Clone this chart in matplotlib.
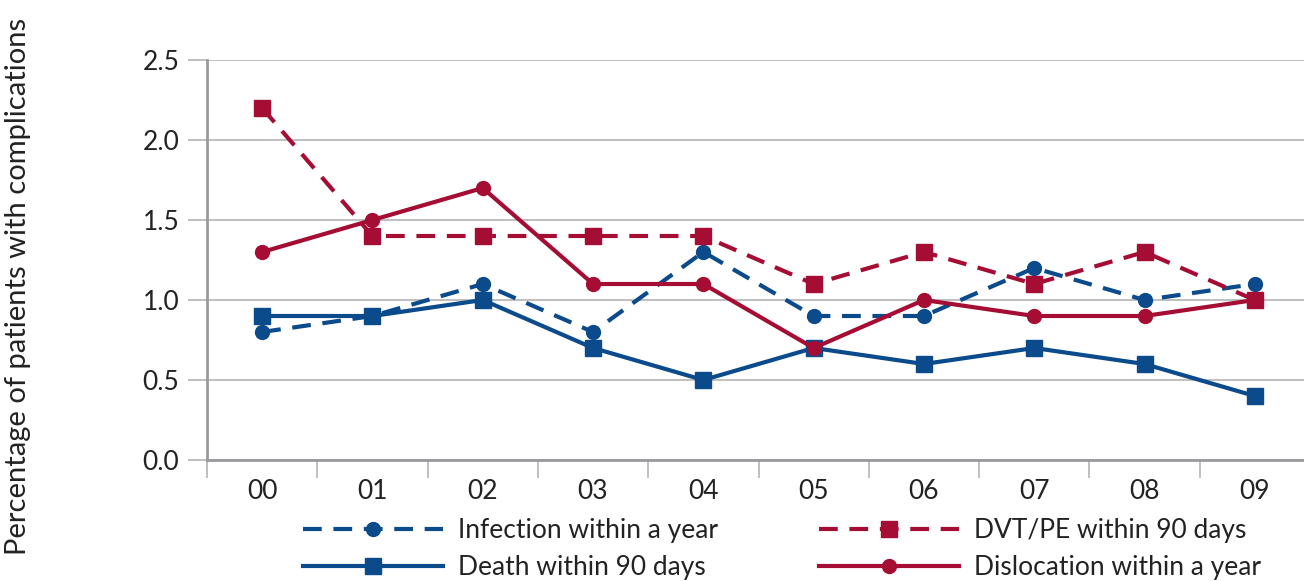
import numpy as np
import matplotlib.pyplot as plt
from matplotlib.lines import Line2D

years = ["00", "01", "02", "03", "04", "05", "06", "07", "08", "09"]
infection = [0.8, 0.9, 1.1, 0.8, 1.3, 0.9, 0.9, 1.2, 1.0, 1.1]
dvt_pe = [2.2, 1.4, 1.4, 1.4, 1.4, 1.1, 1.3, 1.1, 1.3, 1.0]
death = [0.9, 0.9, 1.0, 0.7, 0.5, 0.7, 0.6, 0.7, 0.6, 0.4]
dislocation = [1.3, 1.5, 1.7, 1.1, 1.1, 0.7, 1.0, 0.9, 0.9, 1.0]
yticks = [0.0, 0.5, 1.0, 1.5, 2.0, 2.5]

blue = "#0b4a8b"
red = "#a50d34"
grid_c = "#b4b4b8"
spine_c = "#9a9a9e"
dash = (0, (4.5, 2.8))

plt.rcParams['font.family'] = ['Lato', 'DejaVu Sans']

W, H = 1304, 581
fig = plt.figure(figsize=(W / 100, H / 100), dpi=100)
left, right, top, bottom = 207, 1304, 60, 460
ax = fig.add_axes([left / W, 1 - bottom / H, (right - left) / W, (bottom - top) / H])

x = np.arange(len(years))
lw = 3
ax.plot(x, infection, color=blue, lw=lw, ls=dash, marker="o", ms=10, zorder=3)
ax.plot(x, dvt_pe, color=red, lw=lw, ls=dash, marker="s", ms=11, zorder=3)
ax.plot(x, death, color=blue, lw=lw, marker="s", ms=11, zorder=3)
ax.plot(x, dislocation, color=red, lw=lw, marker="o", ms=10, zorder=3)

ax.set_ylim(0, 2.5)
ax.set_xlim(-0.5, 9.5 - 6 / 110.3)
ax.set_yticks(yticks)
ax.set_yticklabels(["%.1f" % v for v in yticks])
ax.yaxis.grid(True, color=grid_c, lw=1.2)
ax.set_axisbelow(True)

# x ticks at category boundaries, labels centred
ax.set_xticks(np.arange(-0.5, 9.5, 1.0))
ax.set_xticklabels([])
ax.set_xticks(x, minor=True)
ax.set_xticklabels(years, minor=True)
ax.tick_params(axis="x", which="major", length=13, width=1.2, color=grid_c)
ax.tick_params(axis="x", which="minor", length=0, pad=14, labelsize=19, labelcolor="#222222")
ax.tick_params(axis="y", length=14, width=1.2, color=grid_c, pad=6, labelsize=19, labelcolor="#222222")

for s in ["top", "right"]:
    ax.spines[s].set_visible(False)
ax.spines["left"].set_color(spine_c)
ax.spines["left"].set_linewidth(2)
ax.spines["bottom"].set_color(spine_c)
ax.spines["bottom"].set_linewidth(2)

ax.set_ylabel("Percentage of patients with complications", fontsize=21, color="#222222")
ax.yaxis.set_label_coords(-176 / (right - left), 0.435)

handles = [
    Line2D([], [], color=blue, lw=lw, ls=dash, marker="o", ms=10),
    Line2D([], [], color=red, lw=lw, ls=dash, marker="s", ms=11),
    Line2D([], [], color=blue, lw=lw, marker="s", ms=11),
    Line2D([], [], color=red, lw=lw, marker="o", ms=10),
]
labels = ["Infection within a year", "DVT/PE within 90 days",
          "Death within 90 days", "Dislocation within a year"]
# order so that ncol=2 fills rows: infection | dvt, death | dislocation
order = [0, 2, 1, 3]
fig.legend([handles[i] for i in order], [labels[i] for i in order], ncol=2,
           loc="upper left", bbox_to_anchor=(290 / W, 1 - 505 / H),
           frameon=False, fontsize=19, handlelength=5.3, handletextpad=0.55,
           columnspacing=3.85, labelspacing=0.45, borderpad=0, labelcolor="#222222")

fig.savefig("out.png", dpi=100)
